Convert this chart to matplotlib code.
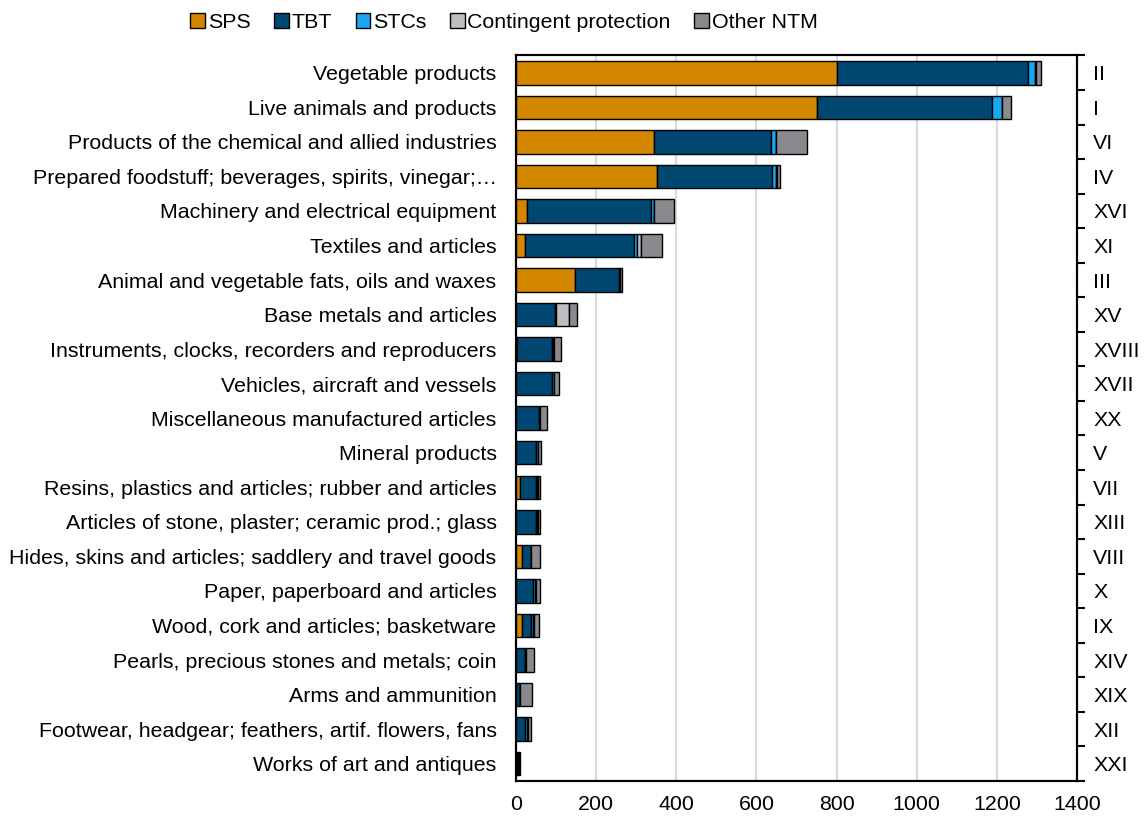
import numpy as np
import matplotlib.pyplot as plt

plt.rcParams['font.family'] = ['Liberation Sans', 'DejaVu Sans']

# categories (top to bottom) and their HS section numerals
categories = [
    "Vegetable products",
    "Live animals and products",
    "Products of the chemical and allied industries",
    "Prepared foodstuff; beverages, spirits, vinegar;\u2026",
    "Machinery and electrical equipment",
    "Textiles and articles",
    "Animal and vegetable fats, oils and waxes",
    "Base metals and articles",
    "Instruments, clocks, recorders and reproducers",
    "Vehicles, aircraft and vessels",
    "Miscellaneous manufactured articles",
    "Mineral products",
    "Resins, plastics and articles; rubber and articles",
    "Articles of stone, plaster; ceramic prod.; glass",
    "Hides, skins and articles; saddlery and travel goods",
    "Paper, paperboard and articles",
    "Wood, cork and articles; basketware",
    "Pearls, precious stones and metals; coin",
    "Arms and ammunition",
    "Footwear, headgear; feathers, artif. flowers, fans",
    "Works of art and antiques",
]
sections = ["II", "I", "VI", "IV", "XVI", "XI", "III", "XV", "XVIII", "XVII",
            "XX", "V", "VII", "XIII", "VIII", "X", "IX", "XIV", "XIX", "XII", "XXI"]

sps = [800, 751, 344, 351, 27, 22, 147, 1, 2, 1, 1, 1, 9, 1, 16, 1, 15, 1, 0, 0, 1]
tbt = [478, 438, 292, 289, 310, 272, 110, 97, 88, 90, 56, 50, 40, 49, 21, 42, 22, 21, 11, 23, 2]
stc = [17, 23, 13, 9, 8, 9, 3, 1, 3, 3, 4, 3, 4, 3, 1, 5, 5, 0, 0, 4, 3]
contingent = [2, 0, 0, 3, 0, 10, 0, 32, 2, 0, 0, 1, 1, 1, 0, 1, 3, 2, 0, 4, 1]
other = [12, 24, 77, 6, 48, 51, 5, 21, 16, 13, 16, 7, 7, 6, 21, 11, 13, 22, 29, 6, 4]

series = [("SPS", sps, "#D38600"),
          ("TBT", tbt, "#004872"),
          ("STCs", stc, "#1AA6F0"),
          ("Contingent protection", contingent, "#BDBDC1"),
          ("Other NTM", other, "#8A8A8E")]

fs = 15.4

fig = plt.figure(figsize=(11.48, 8.16), dpi=100)
ax = fig.add_axes([0.4495, 0.043, 0.4887, 0.889])

y = np.arange(len(categories))
left = np.zeros(len(categories))
for name, vals, col in series:
    ax.barh(y, vals, left=left, height=0.68, color=col, edgecolor='black',
            linewidth=1.0, label=name, zorder=3)
    left += np.array(vals)

ax.set_ylim(len(categories) - 0.5, -0.5)
ax.set_xlim(0, 1400)
ax.set_xticks(np.arange(0, 1401, 200))
ax.set_yticks(y)
ax.set_yticklabels(categories)
ax.tick_params(axis='y', length=0, pad=14, labelsize=fs)
ax.tick_params(axis='x', length=0, pad=10, labelsize=fs)
ax.grid(axis='x', color='#d9d9d9', linewidth=1.5, zorder=0)
ax.set_axisbelow(True)
for s in ax.spines.values():
    s.set_linewidth(1.5)

# right axis with section numerals
ax2 = ax.twinx()
ax2.set_ylim(ax.get_ylim())
ax2.set_yticks(y)
ax2.set_yticklabels(sections)
ax2.set_yticks(np.arange(-0.5, len(categories)), minor=True)
ax2.tick_params(axis='y', which='major', length=0, pad=11.5, labelsize=fs)
ax2.tick_params(axis='y', which='minor', length=6, width=1.5, direction='out')
for s in ax2.spines.values():
    s.set_linewidth(1.5)

ax.legend(loc='center', bbox_to_anchor=(0.439, 0.972), bbox_transform=fig.transFigure,
          ncol=5, frameon=False, fontsize=fs, handlelength=0.7, handleheight=0.7,
          handletextpad=0.12, columnspacing=1.1, borderaxespad=0)

fig.savefig("out.png", dpi=100)
